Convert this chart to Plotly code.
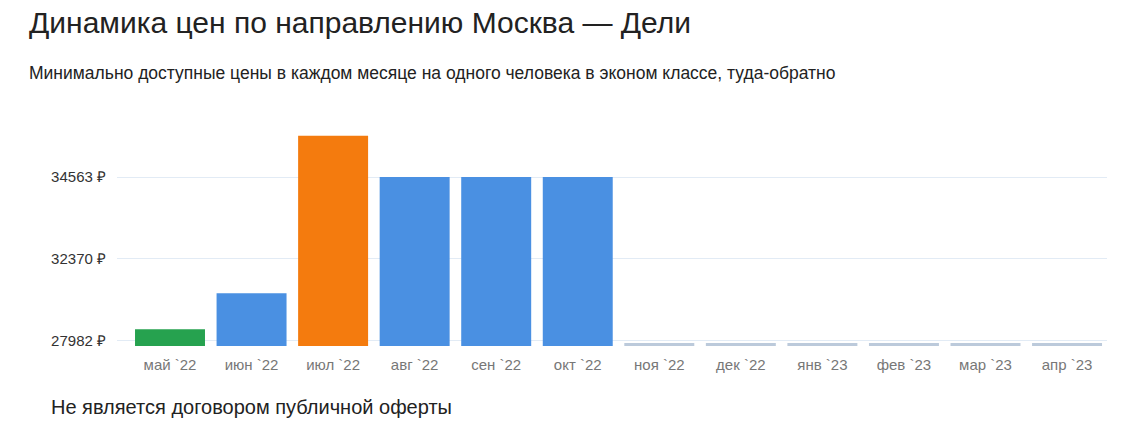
import plotly.graph_objects as go

months = ['май `22', 'июн `22', 'июл `22', 'авг `22', 'сен `22', 'окт `22',
          'ноя `22', 'дек `22', 'янв `23', 'фев `23', 'мар `23', 'апр `23']
prices = [28426, 29879, 36230, 34563, 34563, 34563,
          27873, 27873, 27873, 27873, 27873, 27873]
bar_colors = ['#26a24f', '#4a90e2', '#f47b0e', '#4a90e2', '#4a90e2', '#4a90e2',
              '#bccadb', '#bccadb', '#bccadb', '#bccadb', '#bccadb', '#bccadb']
tick_vals = [27982, 31272, 34563]
tick_text = ['27982 ₽', '32370 ₽', '34563 ₽']

# page body has an 8px margin, so positions are shifted by it
OFF = 8
W, H = 1134 - OFF, 441 - OFF
L, R, T, B = 117 - OFF, 27, 120 - OFF, 95
pw, ph = W - L - R, H - T - B


def px(x):
    return (x - OFF - L) / pw


def py(y):
    return (H - B - (y - OFF)) / ph


fig = go.Figure()
fig.add_trace(go.Bar(
    x=list(range(len(months))),
    y=prices,
    marker=dict(color=bar_colors, line=dict(width=0)),
    hoverinfo='skip',
))

fig.update_layout(
    width=W, height=H,
    margin=dict(l=L, r=R, t=T, b=B),
    plot_bgcolor='white',
    paper_bgcolor='white',
    showlegend=False,
    bargap=0.142,
    font=dict(family='Liberation Sans, Arial, sans-serif', color='#222'),
    xaxis=dict(
        range=[-0.65, 11.49],
        tickmode='array',
        tickvals=list(range(len(months))),
        ticktext=months,
        tickfont=dict(size=15, color='#777'),
        ticks='outside', ticklen=5, tickcolor='white',
        showgrid=False, zeroline=False, showline=False,
    ),
    yaxis=dict(
        range=[27752, 36863],
        tickmode='array',
        tickvals=tick_vals,
        ticktext=tick_text,
        tickfont=dict(size=15, color='#333'),
        gridcolor='#e2ebf5', gridwidth=1,
        zeroline=False, showline=False,
        ticks='outside', ticklen=7, tickcolor='white',
    ),
)

fig.add_annotation(
    text='Динамика цен по направлению Москва — Дели',
    xref='paper', yref='paper', x=px(27), y=py(22),
    xanchor='left', yanchor='middle', showarrow=False,
    font=dict(size=30, color='#222'),
)
fig.add_annotation(
    text='Минимально доступные цены в каждом месяце на одного человека в эконом классе, туда-обратно',
    xref='paper', yref='paper', x=px(27), y=py(73),
    xanchor='left', yanchor='middle', showarrow=False,
    font=dict(size=17.5, color='#222'),
)
fig.add_annotation(
    text='Не является договором публичной оферты',
    xref='paper', yref='paper', x=px(49), y=py(407),
    xanchor='left', yanchor='middle', showarrow=False,
    font=dict(size=20, color='#222'),
)

fig.write_html("out.html")
